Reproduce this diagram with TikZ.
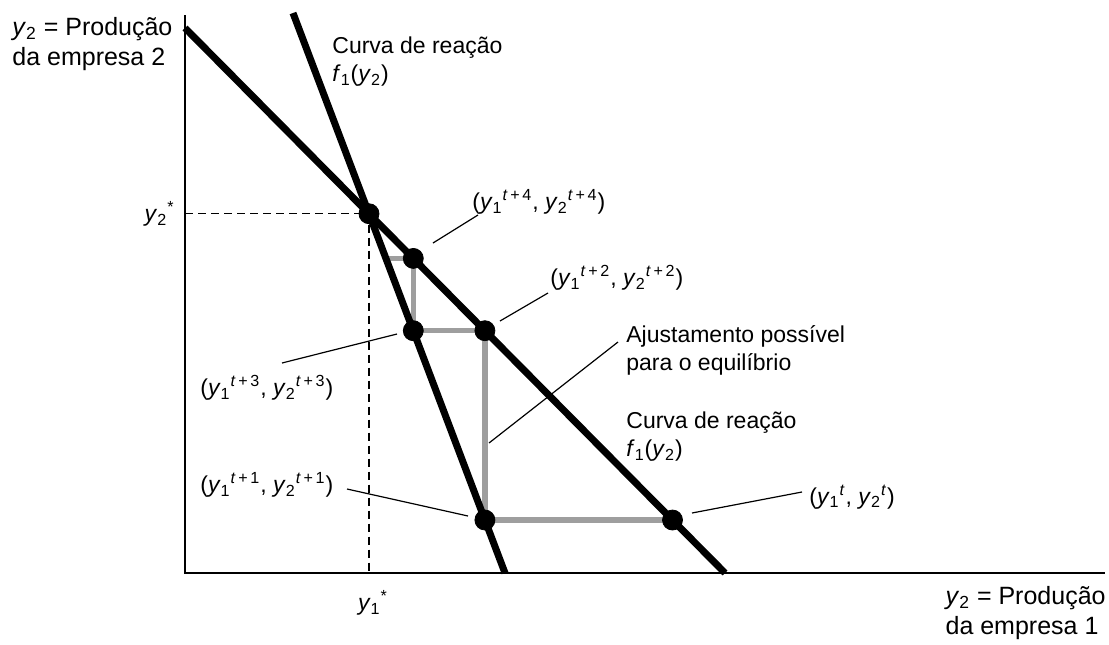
\documentclass[tikz,border=0pt]{standalone}
\usepackage{fontspec}
\setmainfont{Liberation Sans}
\newcommand{\yv}[2]{\textit{y}\textsubscript{#1}\textsuperscript{#2}}
\newcommand{\tsup}[1]{\textit{t}\,+\,#1}
\begin{document}
\begin{tikzpicture}[x=0.5pt, y=-0.5pt, font=\fontsize{11.5}{14}\selectfont,
    curve/.style = {line width=3.5pt},
    axis/.style = {line width=1.4pt},
    adj/.style = {line width=2.6pt, black!38},
    dot/.style = {draw, circle, fill, inner sep=0pt, minimum size=10pt},
    lab/.style = {inner sep=0pt, align=left},
    axlab/.style = {lab, font=\fontsize{12.5}{15}\selectfont},
    lead/.style = {line width=0.6pt}]
    \useasboundingbox (0,0) rectangle (1109,644);

    % eixos e curvas de reacao
    \coordinate (O) at (185,573);
    \coordinate (ytop) at (185,15);
    \coordinate (xend) at (1105,573);
    \coordinate (f1a) at (293,13);
    \coordinate (f1b) at (505,573);
    \coordinate (f2a) at (185,28);
    \coordinate (f2b) at (725,573);

    % pontos do ajustamento
    \coordinate (ce) at (369,213.7);
    \coordinate (c0) at (672.5,520);
    \coordinate (c1) at (484.9,520);
    \coordinate (c2) at (484.9,330.7);
    \coordinate (c3) at (413.3,330.7);
    \coordinate (c4) at (413.3,258.4);
    \coordinate (c5) at (385.9,258.4);

    \draw[adj] (c0) -- (c1) -- (c2) -- (c3) -- (c4) -- (c5);
    \draw[curve] (f1a) -- (f1b);
    \draw[curve] (f2a) -- (f2b);
    \draw[axis] (ytop) -- (O) -- (xend);
    \draw[dashed, line width=0.7pt, dash pattern=on 4pt off 2.5pt] (O |- ce) -- (ce) -- (ce |- O);

    \node[dot] (eq) at (ce) {};
    \node[dot] (p0) at (c0) {};
    \node[dot] (p1) at (c1) {};
    \node[dot] (p2) at (c2) {};
    \node[dot] (p3) at (c3) {};
    \node[dot] (p4) at (c4) {};

    % textos
    \node[axlab, anchor=west] (ylab) at (12,44) {\textit{y}\textsubscript{2} = Produção\\da empresa 2};
    \node[axlab, anchor=east] (xlab) at (1106,613) {\textit{y}\textsubscript{2} = Produção\\da empresa 1};
    \node[lab, anchor=west] (r1) at (332,62) {Curva de reação\\\textit{f}\textsubscript{1}(\textit{y}\textsubscript{2})};
    \node[lab, anchor=west] (r2) at (626,437) {Curva de reação\\\textit{f}\textsubscript{1}(\textit{y}\textsubscript{2})};
    \node[lab, anchor=west] (adjlab) at (626,350) {Ajustamento possível\\para o equilíbrio};
    \node[lab, anchor=east] (ystar2) at (175,214) {\yv{2}{*}};
    \node[lab] (ystar1) at (373,603) {\yv{1}{*}};

    \node[lab, anchor=west] (l4) at (472,202) {(\yv{1}{\tsup{4}}, \yv{2}{\tsup{4}})};
    \node[lab, anchor=west] (l2) at (550,278) {(\yv{1}{\tsup{2}}, \yv{2}{\tsup{2}})};
    \node[lab, anchor=west] (l3) at (200,388) {(\yv{1}{\tsup{3}}, \yv{2}{\tsup{3}})};
    \node[lab, anchor=west] (l1) at (200,485) {(\yv{1}{\tsup{1}}, \yv{2}{\tsup{1}})};
    \node[lab, anchor=west] (l0) at (809,497) {(\yv{1}{\textit{t}}, \yv{2}{\textit{t}})};

    % linhas de chamada
    \coordinate (a4) at (433,243);  \coordinate (b4) at (478,215);
    \coordinate (a2) at (500,321);  \coordinate (b2) at (548,293);
    \coordinate (a3) at (397,334);  \coordinate (b3) at (282,363);
    \coordinate (a1) at (468,516);  \coordinate (b1) at (347,489);
    \coordinate (a0) at (692,513);  \coordinate (b0) at (802,492);
    \coordinate (aa) at (489,443);  \coordinate (ba) at (618,342);

    \draw[lead] (a4) -- (b4);
    \draw[lead] (a2) -- (b2);
    \draw[lead] (a3) -- (b3);
    \draw[lead] (a1) -- (b1);
    \draw[lead] (a0) -- (b0);
    \draw[lead] (aa) -- (ba);

\end{tikzpicture}
\end{document}
